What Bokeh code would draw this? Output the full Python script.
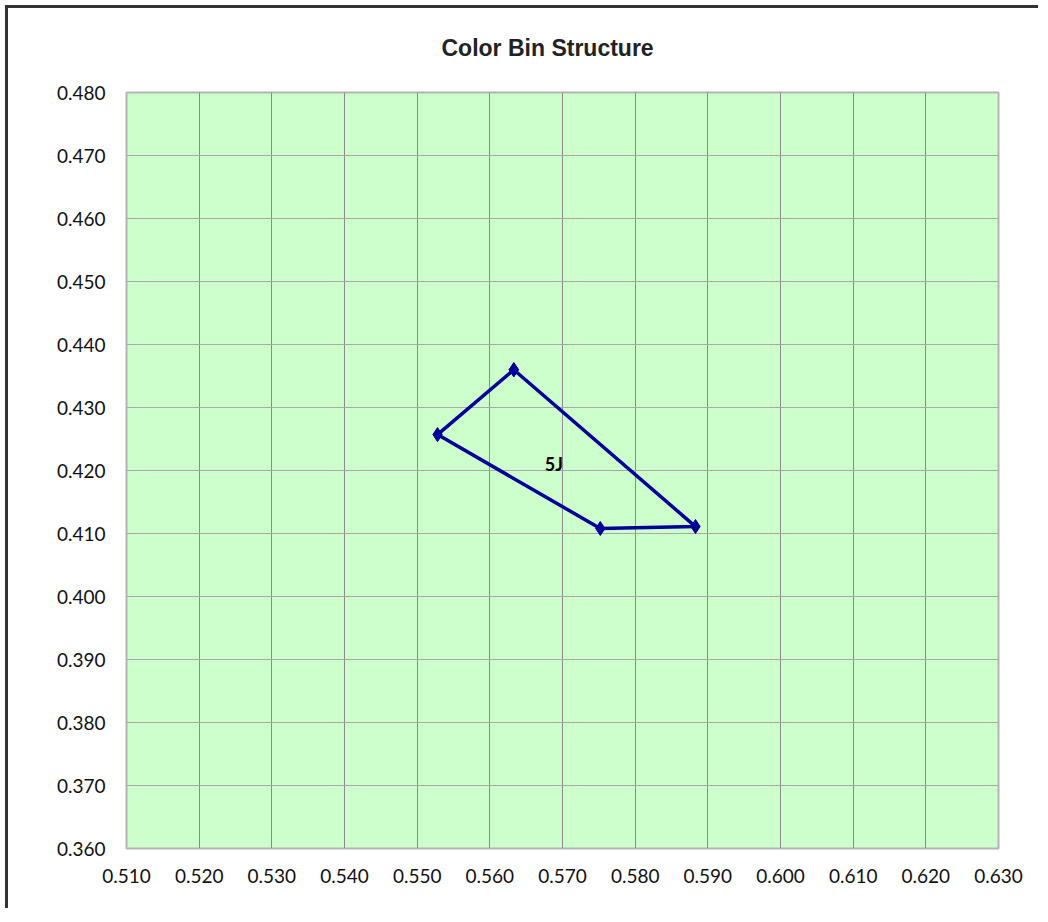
from bokeh.plotting import figure
from bokeh.models import Title, FixedTicker, ColumnDataSource, CustomJSTickFormatter
from bokeh.embed import file_html
from bokeh.resources import INLINE
from bokeh.core.properties import value

# Data
bin_name = "5J"
bin_x = [0.5633, 0.5883, 0.5752, 0.5528, 0.5633]
bin_y = [0.4360, 0.4111, 0.4108, 0.4257, 0.4360]
label_x = [0.5688]
label_y = [0.4211]
x_ticks = [0.51, 0.52, 0.53, 0.54, 0.55, 0.56, 0.57, 0.58, 0.59, 0.60, 0.61, 0.62, 0.63]
y_ticks = [0.36, 0.37, 0.38, 0.39, 0.40, 0.41, 0.42, 0.43, 0.44, 0.45, 0.46, 0.47, 0.48]

p = figure(width=1040, height=914, x_range=(0.51, 0.63), y_range=(0.36, 0.48),
           output_backend="svg", toolbar_location=None,
           min_border_left=126, min_border_right=42, min_border_top=92, min_border_bottom=66)

p.title = Title(text="Color Bin Structure", align="left", offset=315,
                text_font="Liberation Sans", text_font_size="23px", text_font_style="bold",
                text_color="#222222", standoff=63)

p.background_fill_color = "#CCFFCC"
p.border_fill_color = "white"
p.outline_line_color = "#b3b3b3"
p.outline_line_width = 2

for ax in (p.xaxis, p.yaxis):
    ax.axis_line_color = None
    ax.major_tick_line_color = None
    ax.minor_tick_line_color = None
    ax.major_label_text_font = "Lato"
    ax.major_label_text_font_size = "19px"
    ax.major_label_text_color = "#111111"

p.xaxis.ticker = FixedTicker(ticks=x_ticks)
p.yaxis.ticker = FixedTicker(ticks=y_ticks)
p.xaxis.formatter = CustomJSTickFormatter(code="return tick.toFixed(3);")
p.yaxis.formatter = CustomJSTickFormatter(code="return tick.toFixed(3);")
p.xaxis.major_label_standoff = 14
p.yaxis.major_label_standoff = 15

p.xgrid.grid_line_color = "#8c8c8c"
p.xgrid.grid_line_width = 1
p.ygrid.grid_line_color = "#a8a8a8"
p.ygrid.grid_line_width = 1

src = ColumnDataSource(dict(x=bin_x, y=bin_y))
p.line("x", "y", source=src, line_color="#000099", line_width=3.5)
p.scatter("x", "y", source=src, marker="diamond", size=14, fill_color="#000099", line_color="#000099")

p.text(x=label_x, y=label_y, text=[bin_name], text_font=value("Lato"),
       text_font_size="18px", text_font_style="bold", text_color="black",
       text_align="center", text_baseline="middle")

html = file_html(p, INLINE)
frame_div = ('<div style="position:absolute;left:5px;top:5px;width:1030px;height:900px;'
             'border-left:3px solid #333;border-top:3px solid #333;pointer-events:none;z-index:10"></div>')
html = html.replace("</body>", frame_div + "</body>", 1)
open("out.html", "w").write(html)
